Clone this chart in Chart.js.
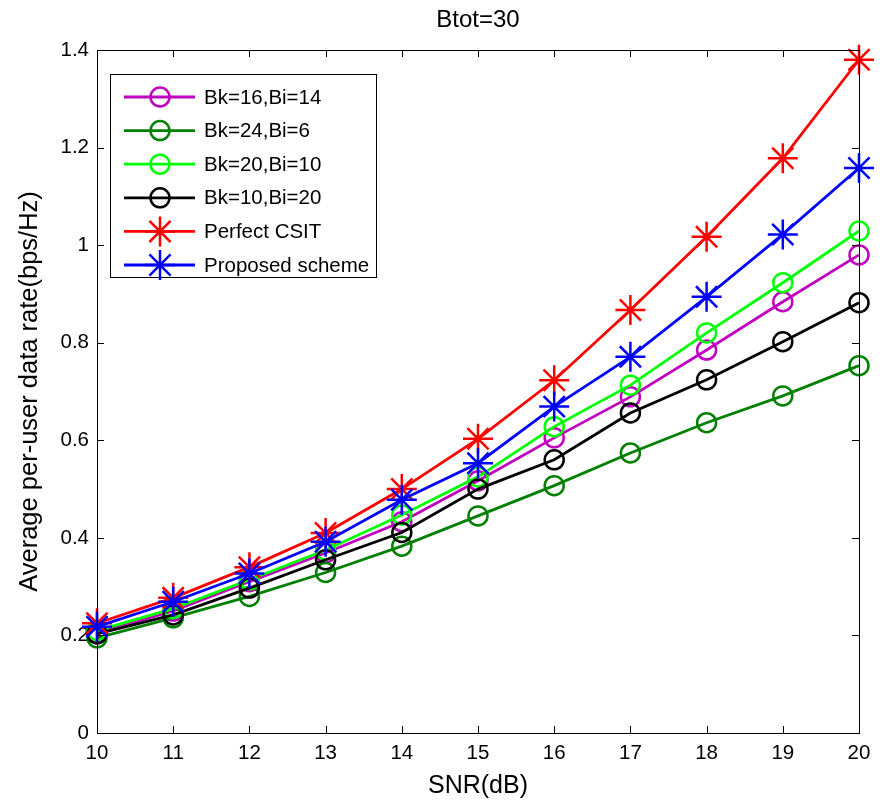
<!DOCTYPE html>
<html>
<head>
<meta charset="utf-8">
<script src="https://cdn.jsdelivr.net/npm/chart.js@4/dist/chart.umd.min.js"></script>
<style>
  html, body { margin: 0; padding: 0; background: #fff; }
  #wrap { width: 882px; height: 803px; }
</style>
</head>
<body>
<div id="wrap"><canvas id="rateChart" width="882" height="803"></canvas></div>
<script>
// SNR values on the x axis
const snr = [10, 11, 12, 13, 14, 15, 16, 17, 18, 19, 20];

// Series
const bk16bi14 = [0.205, 0.250, 0.310, 0.369, 0.433, 0.517, 0.605, 0.689, 0.785, 0.884, 0.980];
const bk24bi6  = [0.195, 0.236, 0.280, 0.329, 0.383, 0.445, 0.507, 0.574, 0.636, 0.691, 0.753];
const bk20bi10 = [0.210, 0.255, 0.314, 0.375, 0.447, 0.525, 0.628, 0.713, 0.820, 0.923, 1.029];
const bk10bi20 = [0.203, 0.242, 0.297, 0.355, 0.411, 0.500, 0.560, 0.656, 0.724, 0.802, 0.882];
const perfect  = [0.225, 0.277, 0.340, 0.410, 0.500, 0.603, 0.723, 0.867, 1.017, 1.178, 1.380];
const proposed = [0.218, 0.269, 0.327, 0.392, 0.478, 0.553, 0.669, 0.771, 0.894, 1.022, 1.158];

const seriesNames = ['Bk=16,Bi=14', 'Bk=24,Bi=6', 'Bk=20,Bi=10', 'Bk=10,Bi=20', 'Perfect CSIT', 'Proposed scheme'];
const seriesData = [bk16bi14, bk24bi6, bk20bi10, bk10bi20, perfect, proposed];
const seriesColors = ['#bf00bf', '#008000', '#00ff00', '#000000', '#ff0000', '#0000ff'];
const seriesMarkers = ['circle', 'circle', 'circle', 'circle', 'star', 'star'];

const FONT = 'Liberation Sans, Arial, sans-serif';

function markerRadius(style) {
    return style === 'star' ? 15 : 9.5;
}

const datasets = seriesNames.map((name, i) => ({
    label: name,
    data: snr.map((x, j) => ({ x: x, y: seriesData[i][j] })),
    borderColor: seriesColors[i],
    backgroundColor: 'rgba(0,0,0,0)',
    pointBorderColor: seriesColors[i],
    pointBackgroundColor: 'rgba(0,0,0,0)',
    pointStyle: seriesMarkers[i],
    pointRadius: markerRadius(seriesMarkers[i]),
    pointBorderWidth: 2.5,
    borderWidth: 2.8,
    tension: 0,
    clip: false,
    order: seriesNames.length - i
}));

// box, inward ticks and title, drawn like the matlab axes
const framePlugin = {
    id: 'frame',
    afterDatasetsDraw(chart) {
        const ctx = chart.ctx;
        const a = chart.chartArea;
        const xs = chart.scales.x, ys = chart.scales.y;
        ctx.save();
        ctx.strokeStyle = '#000';
        ctx.lineWidth = 1;
        ctx.strokeRect(a.left + 0.5, a.top + 0.5, a.right - a.left, a.bottom - a.top);
        const len = 7;
        ctx.beginPath();
        xs.ticks.forEach(t => {
            const px = Math.round(xs.getPixelForValue(t.value)) + 0.5;
            ctx.moveTo(px, a.bottom); ctx.lineTo(px, a.bottom - len);
            ctx.moveTo(px, a.top); ctx.lineTo(px, a.top + len);
        });
        ys.ticks.forEach(t => {
            const py = Math.round(ys.getPixelForValue(t.value)) + 0.5;
            ctx.moveTo(a.left, py); ctx.lineTo(a.left + len, py);
            ctx.moveTo(a.right, py); ctx.lineTo(a.right - len, py);
        });
        ctx.stroke();

        ctx.fillStyle = '#000';
        ctx.font = '24px ' + FONT;
        ctx.textAlign = 'center';
        ctx.textBaseline = 'middle';
        ctx.fillText('Btot=30', (a.left + a.right) / 2, 20);
        ctx.restore();
    }
};

// legend box in the upper left, as in the figure
const boxLegend = {
    id: 'boxLegend',
    afterDraw(chart) {
        const ctx = chart.ctx;
        const bx = 110, by = 74, bw = 266, bh = 203;
        ctx.save();
        ctx.fillStyle = '#fff';
        ctx.fillRect(bx, by, bw, bh);
        ctx.strokeStyle = '#000';
        ctx.lineWidth = 1;
        ctx.strokeRect(bx + 0.5, by + 0.5, bw, bh);
        chart.data.datasets.forEach((ds, i) => {
            const y = by + 23 + i * 33.6;
            ctx.strokeStyle = ds.borderColor;
            ctx.lineWidth = ds.borderWidth;
            ctx.beginPath();
            ctx.moveTo(124, y);
            ctx.lineTo(195, y);
            ctx.stroke();
            ctx.save();
            ctx.fillStyle = 'rgba(0,0,0,0)';
            ctx.lineWidth = ds.pointBorderWidth;
            Chart.helpers.drawPoint(ctx, {
                pointStyle: ds.pointStyle,
                radius: ds.pointRadius,
                rotation: 0,
                borderWidth: ds.pointBorderWidth
            }, 160, y);
            ctx.restore();
            ctx.fillStyle = '#000';
            ctx.font = '20.5px ' + FONT;
            ctx.textAlign = 'left';
            ctx.textBaseline = 'middle';
            ctx.fillText(ds.label, 204, y + 1);
        });
        ctx.restore();
    }
};

const ctxEl = document.getElementById('rateChart').getContext('2d');
const rateChart = new Chart(ctxEl, {
    type: 'line',
    data: { datasets: datasets },
    options: {
        responsive: false,
        animation: false,
        layout: { padding: { left: 0, top: 50, right: 23, bottom: 0 } },
        plugins: {
            legend: { display: false },
            title: { display: false },
            tooltip: { enabled: false }
        },
        scales: {
            x: {
                type: 'linear',
                min: 10,
                max: 20,
                afterFit: s => { s.height = 70; },
                grid: { display: false, drawTicks: false },
                border: { display: false },
                ticks: {
                    stepSize: 1,
                    padding: 8,
                    color: '#000',
                    font: { family: FONT, size: 20.5 },
                    maxRotation: 0
                },
                title: {
                    display: true,
                    text: 'SNR(dB)',
                    color: '#000',
                    font: { family: FONT, size: 25 },
                    padding: { top: 0, bottom: 2 }
                }
            },
            y: {
                min: 0,
                max: 1.4,
                afterFit: s => { s.width = 97; },
                grid: { display: false, drawTicks: false },
                border: { display: false },
                ticks: {
                    stepSize: 0.2,
                    padding: 8,
                    color: '#000',
                    font: { family: FONT, size: 20.5 },
                    callback: v => String(Number(v.toFixed(1)))
                },
                title: {
                    display: true,
                    text: 'Average per-user data rate(bps/Hz)',
                    color: '#000',
                    font: { family: FONT, size: 25.5 },
                    padding: { top: 15, bottom: 0 }
                }
            }
        }
    },
    plugins: [framePlugin, boxLegend]
});
</script>
</body>
</html>
